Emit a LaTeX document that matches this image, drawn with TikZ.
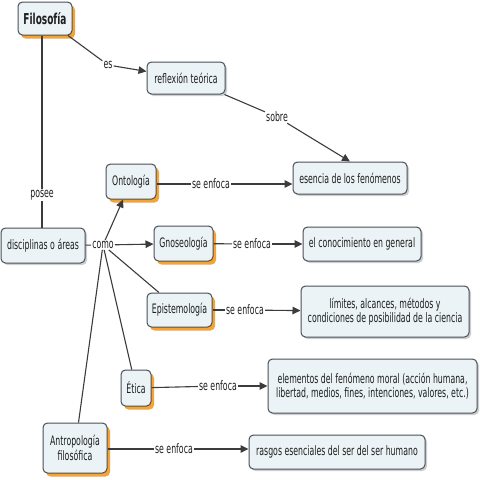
\documentclass[tikz,border=0pt]{standalone}
\usepackage{fontspec}
\setmainfont{DejaVu Sans}[FakeStretch=0.6]
\usetikzlibrary{arrows.meta,shadows}
\definecolor{fillc}{HTML}{EBF3F6}
\definecolor{bordc}{HTML}{4A4F55}
\definecolor{linec}{HTML}{3C3C3C}
\definecolor{orc}{HTML}{F39A1E}
\definecolor{grc}{HTML}{B8BCC0}
\definecolor{txtc}{HTML}{1E1E1E}
\tikzset{
  concept/.style={draw=bordc, fill=fillc, rounded corners=4.5pt, line width=1pt,
    align=center, inner sep=0pt, text=txtc, font=\fontsize{13}{14.5}\selectfont},
  oconcept/.style={concept, drop shadow={shadow xshift=3pt, shadow yshift=-3.5pt, fill=orc, opacity=0.9}},
  gconcept/.style={concept, drop shadow={shadow xshift=2pt, shadow yshift=-2pt, fill=grc, opacity=0.7}},
  lbl/.style={fill=white, inner sep=1pt, text=txtc, font=\fontsize{13}{14.5}\selectfont},
  conn/.style={draw=linec, line width=1.1pt},
  arr/.style={conn, -{Triangle[length=8pt,width=7.5pt]}}
}
\begin{document}
\begin{tikzpicture}[x=1pt,y=-1pt]
\fill[white] (0,0) rectangle (480,480);
\useasboundingbox (0,0) rectangle (480,480);
% concepts
\node[oconcept, minimum width=54pt, minimum height=33pt, font=\fontsize{15}{16}\selectfont\bfseries] (fil) at (45,18.5) {Filosofía};
\node[gconcept, minimum width=78pt, minimum height=32pt] (ref) at (186,78) {reflexión teórica};
\node[gconcept, minimum width=114pt, minimum height=32pt] (ese) at (350,178) {esencia de los fenómenos};
\node[oconcept, minimum width=50pt, minimum height=35pt] (ont) at (131,181.5) {Ontología};
\node[gconcept, minimum width=84pt, minimum height=35pt] (dis) at (43,245.5) {disciplinas o áreas};
\node[oconcept, minimum width=59pt, minimum height=35pt] (gno) at (183.5,243.5) {Gnoseología};
\node[oconcept, minimum width=65pt, minimum height=34pt] (epi) at (179.5,310) {Epistemología};
\node[gconcept, minimum width=118pt, minimum height=34pt] (con) at (362,244) {el conocimiento en general};
\node[gconcept, minimum width=168pt, minimum height=51pt] (lim) at (385,311.5) {límites, alcances, métodos y\\condiciones de posibilidad de la ciencia};
\node[oconcept, minimum width=30pt, minimum height=36pt] (eti) at (136,388) {Ética};
\node[oconcept, minimum width=64pt, minimum height=50pt] (ant) at (75,448) {Antropología\\filosófica};
\node[gconcept, minimum width=209pt, minimum height=54pt] (ele) at (372.5,386) {elementos del fenómeno moral (acción humana,\\libertad, medios, fines, intenciones, valores, etc.)};
\node[gconcept, minimum width=176pt, minimum height=34pt] (ras) at (337,452) {rasgos esenciales del ser del ser humano};
% linking labels
\node[lbl] (es) at (108,65) {es};
\node[lbl] (sob) at (277,117) {sobre};
\node[lbl] (pos) at (42,195) {posee};
\node[lbl] (como) at (103,245) {como};
\node[lbl] (se1) at (211,184) {se enfoca};
\node[lbl] (se2) at (252,244) {se enfoca};
\node[lbl] (se3) at (245,310) {se enfoca};
\node[lbl] (se4) at (218,386) {se enfoca};
\node[lbl] (se5) at (174,449) {se enfoca};
% connectors
\draw[conn] (fil) -- (es);
\draw[arr] (es) -- (ref);
\draw[conn] (ref) -- (sob);
\draw[arr] (sob) -- (ese.north);
\draw[conn] (fil.south -| pos) -- (pos);
\draw[conn] (pos) -- (dis.north -| pos);
\draw[conn] (dis) -- (como);
\draw[arr] (como) -- (ont);
\draw[arr] (como) -- (gno);
\draw[conn] (como) -- (epi);
\draw[conn] (como) -- (eti);
\draw[conn] (como) -- (ant);
\draw[conn] (ont.east |- se1) -- (se1);
\draw[arr] (se1) -- (ese.west |- se1);
\draw[conn] (gno) -- (se2);
\draw[arr] (se2) -- (con);
\draw[conn] (epi) -- (se3);
\draw[arr] (se3) -- (lim);
\draw[conn] (eti) -- (se4);
\draw[arr] (se4) -- (ele);
\draw[conn] (ant.east |- se5) -- (se5);
\draw[arr] (se5) -- (ras.west |- se5);
\end{tikzpicture}
\end{document}
